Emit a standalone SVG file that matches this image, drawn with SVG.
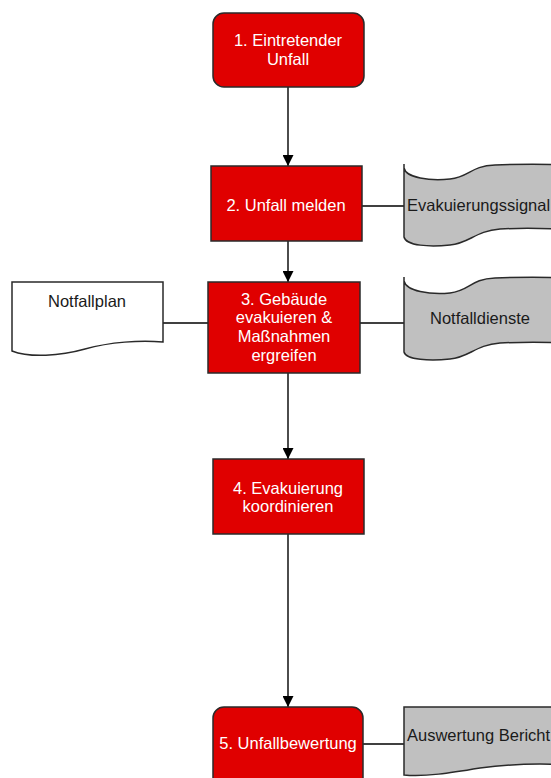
<svg xmlns="http://www.w3.org/2000/svg" width="551" height="778" viewBox="0 0 551 778">
<defs>
<style>
.proc{fill:#e00000;stroke:#2a2a2a;stroke-width:1.5}
.doc{fill:#c0c0c0;stroke:#2a2a2a;stroke-width:1.5}
.wdoc{fill:#ffffff;stroke:#2a2a2a;stroke-width:1.5}
.wt{font-family:"Liberation Sans",Arial,sans-serif;font-size:16.5px;fill:#ffffff;text-anchor:middle}
.bt{font-family:"Liberation Sans",Arial,sans-serif;font-size:16.5px;fill:#1a1a1a}
.ln{fill:none;stroke:#000;stroke-width:1.4}
</style>
<marker id="arr" markerUnits="userSpaceOnUse" markerWidth="11" markerHeight="11" refX="11" refY="5.5" orient="auto">
<path d="M0,0 L11,5.5 L0,11 Z" fill="#000"/>
</marker>
</defs>
<rect width="551" height="778" fill="#ffffff"/>
<g id="connectors">
<line class="ln" x1="288" y1="87" x2="288" y2="166" marker-end="url(#arr)"/>
<line class="ln" x1="288" y1="241" x2="288" y2="282" marker-end="url(#arr)"/>
<line class="ln" x1="288" y1="373" x2="288" y2="459" marker-end="url(#arr)"/>
<line class="ln" x1="288" y1="534" x2="288" y2="707" marker-end="url(#arr)"/>
<line class="ln" x1="362" y1="206" x2="404" y2="206"/>
<line class="ln" x1="163" y1="323" x2="208" y2="323"/>
<line class="ln" x1="360" y1="323" x2="404" y2="323"/>
<line class="ln" x1="363" y1="744" x2="404" y2="744"/>
</g>
<g id="n1">
<rect class="proc" x="213" y="13" width="151" height="74" rx="11"/>
<text class="wt" x="288" y="45.5">1. Eintretender</text>
<text class="wt" x="288" y="64.5">Unfall</text>
</g>
<g id="n2">
<rect class="proc" x="211" y="166" width="151" height="75"/>
<text class="wt" x="286" y="210.5">2. Unfall melden</text>
</g>
<g id="sig">
<path class="doc" d="M404,164 L404,168 C406,178 430,181 450,179 C470,177 470,166 495,165 C520,164 545,164 570,165 L570,230 C545,228 520,228 500,229 C475,231 470,243 450,245 C430,247 406,246 404,237 Z"/>
<text class="bt" x="407" y="211">Evakuierungssignal</text>
</g>
<g id="n3">
<rect class="proc" x="208" y="282" width="152" height="91"/>
<text class="wt" x="284" y="304.5">3. Gebäude</text>
<text class="wt" x="284" y="323">evakuieren &amp;</text>
<text class="wt" x="284" y="342">Maßnahmen</text>
<text class="wt" x="284" y="361">ergreifen</text>
</g>
<g id="plan">
<path class="wdoc" d="M12,282 L163,282 L163,342 C140,340 110,342 85,349 C60,356 30,358 12,351 Z"/>
<text class="bt" x="87" y="306.5" text-anchor="middle">Notfallplan</text>
</g>
<g id="dienste">
<path class="doc" d="M404,277 L404,281 C406,291 430,295 450,293 C470,291 470,279 495,278 C520,277 545,277 570,278 L570,343 C545,342 520,342 500,343 C475,345 470,357 450,359 C430,361 406,360 404,352 Z"/>
<text class="bt" x="480" y="323.5" text-anchor="middle">Notfalldienste</text>
</g>
<g id="n4">
<rect class="proc" x="213" y="459" width="151" height="75"/>
<text class="wt" x="288" y="494">4. Evakuierung</text>
<text class="wt" x="288" y="512">koordinieren</text>
</g>
<g id="n5">
<rect class="proc" x="213" y="707" width="150" height="85" rx="11"/>
<text class="wt" x="288" y="748.5">5. Unfallbewertung</text>
</g>
<g id="bericht">
<path class="doc" d="M404,707 L570,707 L570,765 C540,763 510,764 480,768 C450,773 425,777 404,775 Z"/>
<text class="bt" x="407" y="740.5">Auswertung Bericht</text>
</g>
</svg>
